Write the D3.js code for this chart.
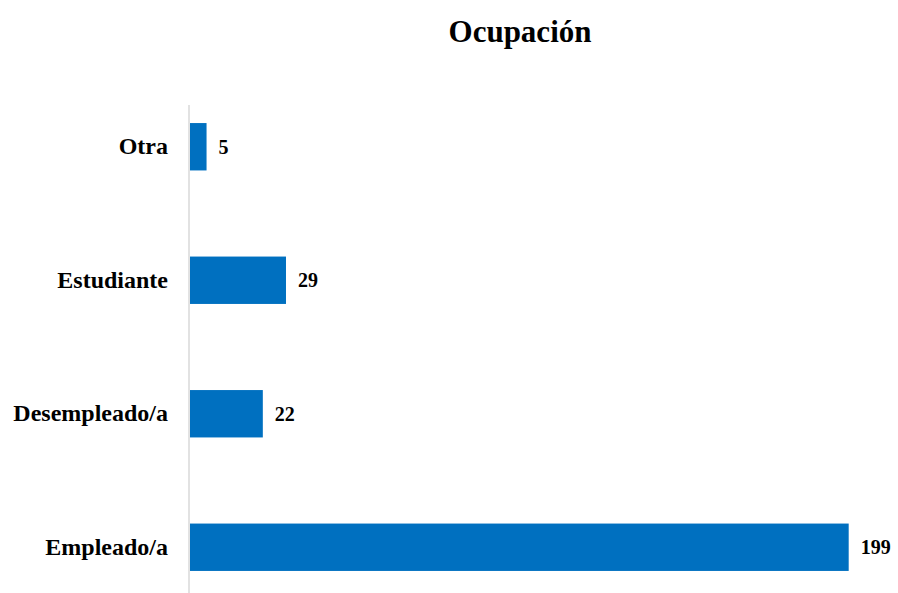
<!DOCTYPE html>
<html>
<head>
<meta charset="utf-8">
<script src="https://cdn.jsdelivr.net/npm/d3@7"></script>
<style>
  html, body { margin: 0; padding: 0; background: #ffffff; }
  svg { display: block; }
</style>
</head>
<body>
<svg id="chart" width="898" height="593"></svg>
<script>
const titleText = "Ocupación";
const categories = ["Otra", "Estudiante", "Desempleado/a", "Empleado/a"];
const values = [5, 29, 22, 199];

const svg = d3.select("#chart");
const W = 898, H = 593;
const left = 190, right = 852;

svg.append("rect").attr("width", W).attr("height", H).attr("fill", "#ffffff");

const x = d3.scaleLinear().domain([0, 200]).range([left, right]);
const y = d3.scaleBand().domain(categories).range([80, 614])
  .paddingInner(0.645).paddingOuter(0.3225);

// title
svg.append("text")
  .attr("x", 520).attr("y", 42)
  .attr("text-anchor", "middle")
  .attr("font-family", "'Liberation Serif', 'Times New Roman', serif")
  .attr("font-weight", "bold")
  .attr("font-size", 31)
  .attr("fill", "#000")
  .text(titleText);

// bars
svg.append("g").selectAll("rect")
  .data(categories)
  .join("rect")
  .attr("x", x(0))
  .attr("y", d => y(d))
  .attr("width", (d, i) => x(values[i]) - x(0))
  .attr("height", y.bandwidth())
  .attr("fill", "#0070c0");

// axis line (category axis)
const axis = d3.axisLeft(y).tickSize(0).tickPadding(21);
const gAxis = svg.append("g")
  .attr("transform", `translate(${left - 1},0)`)
  .call(axis);
gAxis.select(".domain").remove();
gAxis.append("line")
  .attr("x1", 0).attr("x2", 0)
  .attr("y1", 105).attr("y2", 593)
  .attr("stroke", "#d9d9d9").attr("stroke-width", 1.5);
gAxis.selectAll(".tick text")
  .attr("font-family", "'Liberation Serif', 'Times New Roman', serif")
  .attr("font-weight", "bold")
  .attr("font-size", 24)
  .attr("fill", "#000");

// value labels
svg.append("g").selectAll("text")
  .data(categories)
  .join("text")
  .attr("x", (d, i) => x(values[i]) + 12)
  .attr("y", d => y(d) + y.bandwidth() / 2)
  .attr("dy", "0.35em")
  .attr("font-family", "'Liberation Serif', 'Times New Roman', serif")
  .attr("font-weight", "bold")
  .attr("font-size", 20)
  .attr("fill", "#000")
  .text((d, i) => values[i]);
</script>
</body>
</html>
